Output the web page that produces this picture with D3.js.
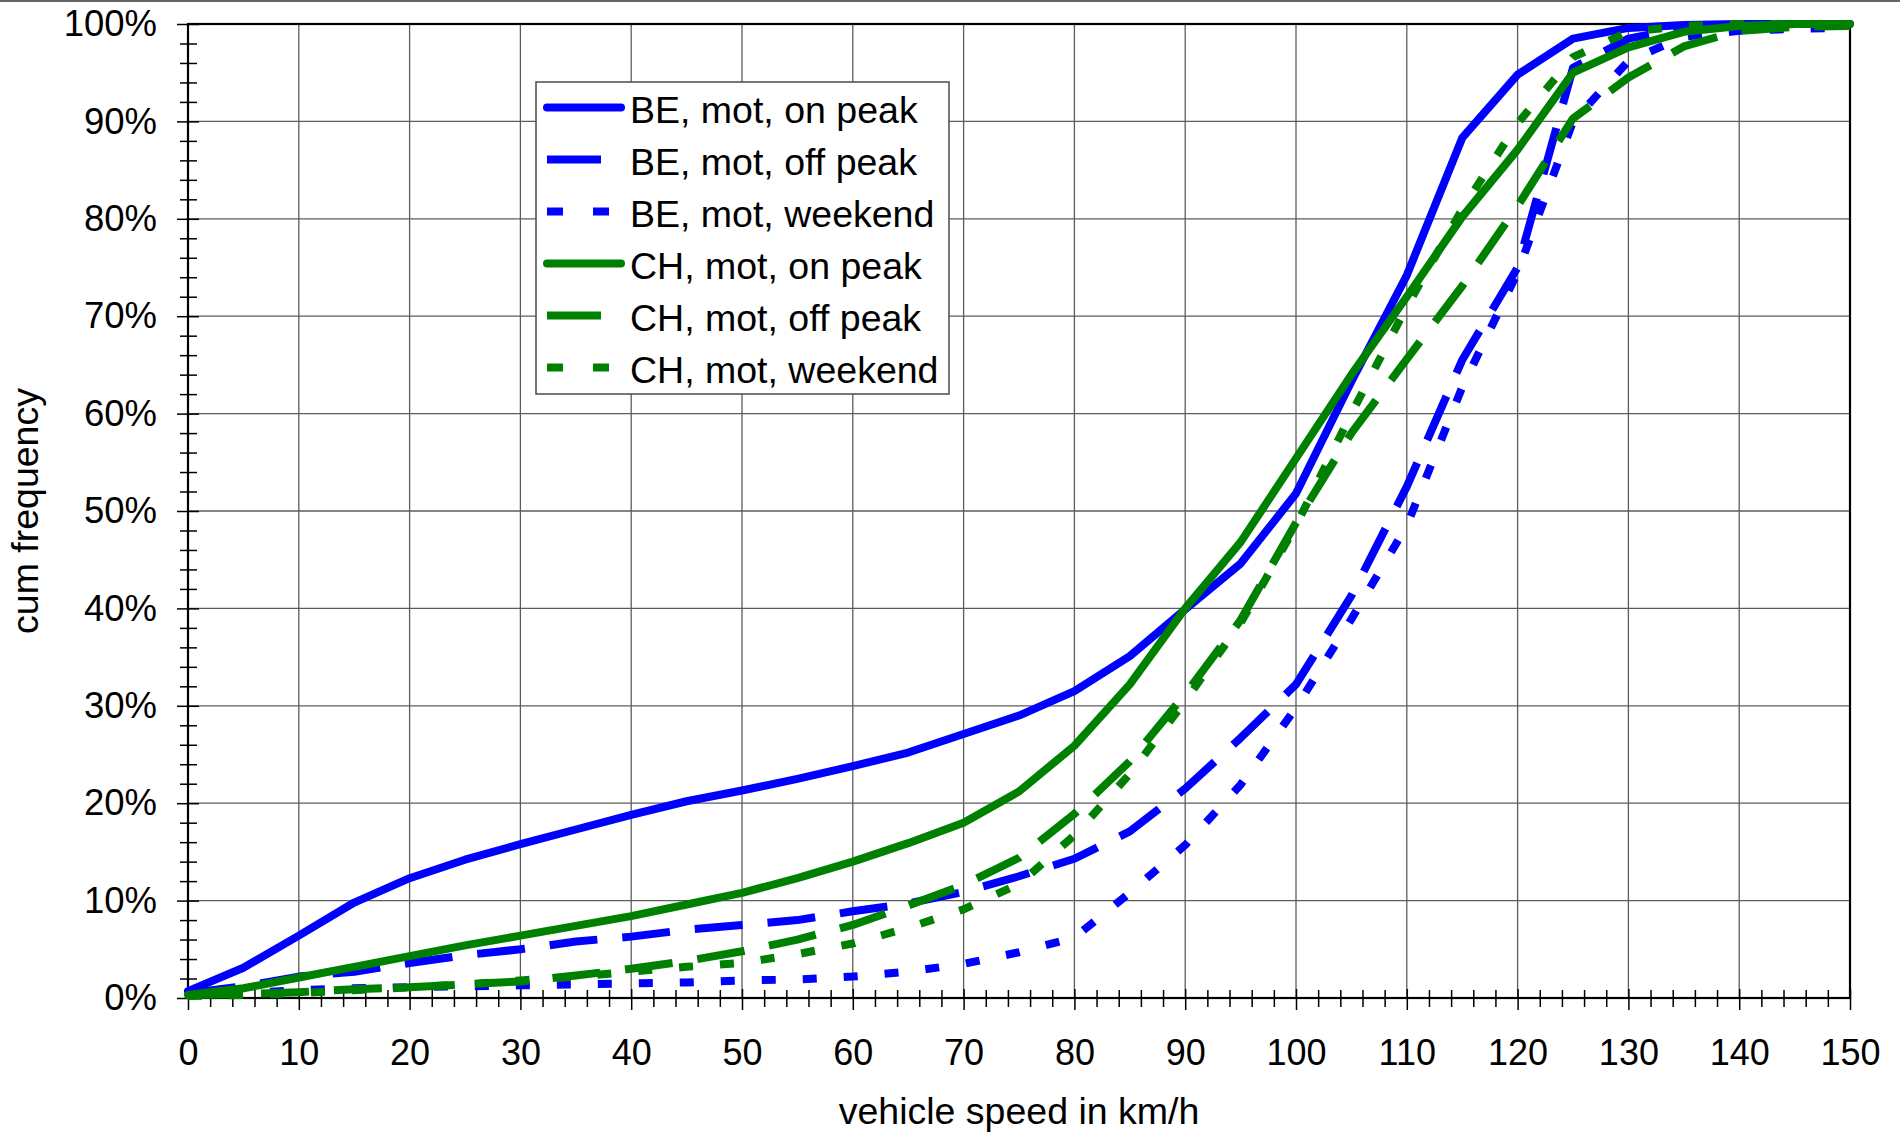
<!DOCTYPE html>
<html>
<head>
<meta charset="utf-8">
<script src="https://cdn.jsdelivr.net/npm/d3@7"></script>
<style>
  html, body { margin: 0; padding: 0; background: #fff; }
  svg { display: block; font-family: "Liberation Sans", Arial, sans-serif; }
</style>
</head>
<body>
<svg id="chart" width="1900" height="1136"></svg>
<script>
// Cumulative speed distributions, measured every 5 km/h
const speedKmh = [0, 5, 10, 15, 20, 25, 30, 35, 40, 45, 50, 55, 60, 65, 70, 75,
                  80, 85, 90, 95, 100, 105, 110, 115, 120, 125, 130, 135, 140, 145, 150];

const beOnPeak   = [0.7, 3.1, 6.4, 9.8, 12.3, 14.2, 15.8, 17.3, 18.8, 20.2, 21.3, 22.5, 23.8, 25.2, 27.1, 29.0,
                    31.5, 35.1, 39.9, 44.6, 51.8, 63.3, 74.2, 88.3, 94.8, 98.5, 99.6, 99.9, 100, 100, 100];
const beOffPeak  = [0.5, 1.2, 2.2, 2.7, 3.6, 4.4, 5.0, 5.8, 6.3, 7.0, 7.5, 8.0, 8.9, 9.7, 10.9, 12.5,
                    14.3, 17.1, 21.5, 26.7, 32.2, 41.3, 52.5, 65.5, 75.0, 95.5, 98.5, 99.6, 99.8, 100, 100];
const beWeekend  = [0.3, 0.5, 0.8, 1.0, 1.1, 1.2, 1.3, 1.4, 1.5, 1.6, 1.8, 1.9, 2.2, 2.7, 3.5, 4.7,
                    6.2, 10.8, 15.7, 21.9, 29.8, 38.9, 48.5, 62.7, 74.5, 90.0, 96.2, 98.7, 99.3, 99.5, 99.6];
const chOnPeak   = [0.3, 1.0, 2.1, 3.2, 4.3, 5.4, 6.4, 7.4, 8.4, 9.6, 10.8, 12.3, 14.0, 15.9, 18.0, 21.2,
                    25.9, 32.2, 40.0, 46.8, 55.4, 64.0, 72.0, 80.2, 87.1, 95.0, 97.6, 99.2, 99.8, 100, 100];
const chOffPeak  = [0.3, 0.4, 0.6, 0.9, 1.1, 1.4, 1.7, 2.3, 3.0, 3.8, 4.8, 6.0, 7.5, 9.5, 11.6, 14.4,
                    18.9, 24.3, 31.2, 38.8, 48.8, 58.0, 65.6, 73.1, 81.3, 90.3, 94.5, 97.7, 99.3, 99.7, 99.8];
const chWeekend  = [0.2, 0.3, 0.5, 0.8, 1.1, 1.4, 1.8, 2.2, 2.7, 3.2, 3.6, 4.5, 5.6, 7.2, 9.1, 11.7,
                    16.7, 23.0, 30.5, 38.5, 48.5, 60.0, 71.0, 81.0, 89.8, 96.6, 99.2, 99.8, 100, 100, 100];

const seriesNames = ["BE, mot, on peak", "BE, mot, off peak", "BE, mot, weekend",
                     "CH, mot, on peak", "CH, mot, off peak", "CH, mot, weekend"];

const xTickValues = [0, 10, 20, 30, 40, 50, 60, 70, 80, 90, 100, 110, 120, 130, 140, 150];
const yTickValues = [0, 10, 20, 30, 40, 50, 60, 70, 80, 90, 100];
const yTickLabels = ["0%", "10%", "20%", "30%", "40%", "50%", "60%", "70%", "80%", "90%", "100%"];

const xTitle = "vehicle speed in km/h";
const yTitle = "cum frequency";

// ---- styling ----
const BLUE = "#0000ff", GREEN = "#008000";
const styles = [
  { color: BLUE,  dash: null,    legendDash: null },
  { color: BLUE,  dash: "48,25", legendDash: "54,24" },
  { color: BLUE,  dash: "14,27", legendDash: "16,30" },
  { color: GREEN, dash: null,    legendDash: null },
  { color: GREEN, dash: "48,25", legendDash: "54,24" },
  { color: GREEN, dash: "14,27", legendDash: "16,30" }
];
const seriesValues = [beOnPeak, beOffPeak, beWeekend, chOnPeak, chOffPeak, chWeekend];

const FONT = "'Liberation Sans', Arial, sans-serif";
const svg = d3.select("#chart");
const plot = { left: 188, right: 1850, top: 24, bottom: 998 };

const x = d3.scaleLinear().domain([0, 150]).range([plot.left, plot.right]);
const y = d3.scaleLinear().domain([0, 100]).range([plot.bottom, plot.top]);

svg.append("rect").attr("width", 1900).attr("height", 1136).attr("fill", "#fff");

// thin rule along the top edge of the image
svg.append("line").attr("x1", 0).attr("x2", 1900).attr("y1", 1).attr("y2", 1)
  .attr("stroke", "#666").attr("stroke-width", 2);

// ---- grid ----
const grid = svg.append("g").attr("stroke", "#5c5c5c").attr("stroke-width", 1.3);
grid.selectAll(".gx").data(xTickValues.slice(1, -1)).join("line")
  .attr("x1", d => x(d)).attr("x2", d => x(d))
  .attr("y1", plot.top).attr("y2", plot.bottom);
grid.selectAll(".gy").data(yTickValues.slice(1, -1)).join("line")
  .attr("x1", plot.left).attr("x2", plot.right)
  .attr("y1", d => y(d)).attr("y2", d => y(d));

// ---- axes ----
const minorX = d3.range(0, 151, 2).filter(v => v % 10 !== 0);
const minorY = d3.range(0, 101, 2).filter(v => v % 10 !== 0);

const gxMinor = svg.append("g").attr("transform", `translate(0,${plot.bottom})`)
  .call(d3.axisBottom(x).tickValues(minorX).tickSize(9).tickSizeOuter(0).tickFormat(""));
gxMinor.selectAll(".tick line").attr("y1", -8).attr("stroke", "#000").attr("stroke-width", 1.5);
gxMinor.select(".domain").remove();

const gx = svg.append("g").attr("transform", `translate(0,${plot.bottom})`)
  .call(d3.axisBottom(x).tickValues(xTickValues).tickSize(12).tickSizeOuter(0).tickFormat(d3.format("d")));
gx.select(".domain").remove();
gx.selectAll(".tick line").attr("y1", -9).attr("stroke", "#000").attr("stroke-width", 1.5);
gx.selectAll(".tick text").attr("dy", null)
  .attr("y", 67).attr("font-size", 36).attr("fill", "#000")
  .attr("font-family", FONT);

const gyMinor = svg.append("g").attr("transform", `translate(${plot.left},0)`)
  .call(d3.axisLeft(y).tickValues(minorY).tickSize(8).tickSizeOuter(0).tickFormat(""));
gyMinor.selectAll(".tick line").attr("x1", 9).attr("stroke", "#000").attr("stroke-width", 1.5);
gyMinor.select(".domain").remove();

const gy = svg.append("g").attr("transform", `translate(${plot.left},0)`)
  .call(d3.axisLeft(y).tickValues(yTickValues).tickSize(11).tickSizeOuter(0)
    .tickFormat((d, i) => yTickLabels[i]));
gy.select(".domain").remove();
gy.selectAll(".tick line").attr("x1", 11).attr("stroke", "#000").attr("stroke-width", 1.5);
gy.selectAll(".tick text").attr("x", -31).attr("font-size", 36.5).attr("fill", "#000")
  .attr("font-family", FONT);

// plot frame
svg.append("rect")
  .attr("x", plot.left).attr("y", plot.top)
  .attr("width", plot.right - plot.left).attr("height", plot.bottom - plot.top)
  .attr("fill", "none").attr("stroke", "#000").attr("stroke-width", 2.2);

// ---- series lines ----
const lineGen = d3.line().x((d, i) => x(speedKmh[i])).y(d => y(d));
const lines = svg.append("g");
seriesValues.forEach((vals, k) => {
  const st = styles[k];
  lines.append("path")
    .datum(vals)
    .attr("d", lineGen)
    .attr("fill", "none")
    .attr("stroke", st.color)
    .attr("stroke-width", 8)
    .attr("stroke-linejoin", "round")
    .attr("stroke-linecap", st.dash ? "butt" : "round")
    .attr("stroke-dasharray", st.dash);
});

// ---- axis titles ----
svg.append("text")
  .attr("x", (plot.left + plot.right) / 2).attr("y", 1124)
  .attr("text-anchor", "middle").attr("font-size", 37.5).attr("fill", "#000")
  .text(xTitle);
svg.append("text")
  .attr("transform", `translate(38,${(plot.top + plot.bottom) / 2}) rotate(-90)`)
  .attr("text-anchor", "middle").attr("font-size", 37.5).attr("fill", "#000")
  .text(yTitle);

// ---- legend ----
const legend = svg.append("g");
legend.append("rect")
  .attr("x", 536).attr("y", 82).attr("width", 413).attr("height", 312)
  .attr("fill", "#fff").attr("stroke", "#555").attr("stroke-width", 1.6);
const rowY = i => 107.5 + i * 52;
seriesNames.forEach((name, i) => {
  const st = styles[i];
  const solid = !st.legendDash;
  legend.append("line")
    .attr("x1", 547).attr("x2", solid ? 621 : 625)
    .attr("y1", rowY(i)).attr("y2", rowY(i))
    .attr("stroke", st.color).attr("stroke-width", 8)
    .attr("stroke-linecap", solid ? "round" : "butt")
    .attr("stroke-dasharray", st.legendDash);
  legend.append("text")
    .attr("x", 630).attr("y", rowY(i) + 15)
    .attr("font-size", 37.5).attr("fill", "#000")
    .text(name);
});
</script>
</body>
</html>
